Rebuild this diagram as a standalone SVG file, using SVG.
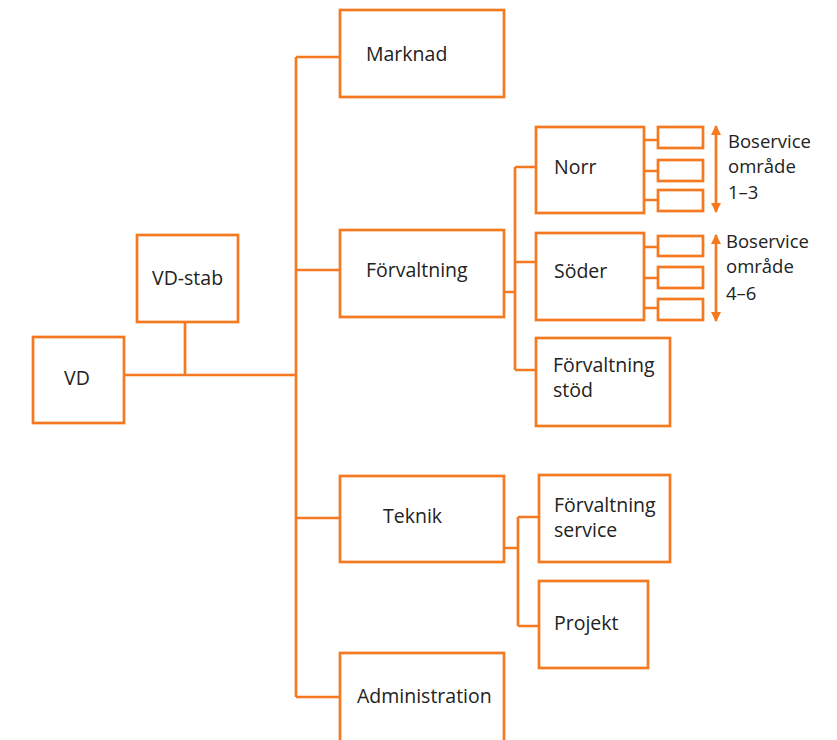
<svg xmlns="http://www.w3.org/2000/svg" width="837" height="740" viewBox="0 0 837 740">
<defs>
<style>
rect{fill:#fff;stroke:#F47920;stroke-width:2.7}
.c{fill:none;stroke:#F47920;stroke-width:2.7}
text{font-family:"Open Sans","Noto Sans","Liberation Sans",sans-serif;font-size:19.5px;fill:#222}
.s{font-size:18.5px}
</style>
<marker id="ah" viewBox="0 0 10 10" refX="9" refY="5" markerWidth="10" markerHeight="10" markerUnits="userSpaceOnUse" orient="auto-start-reverse">
<path d="M0,0 L10,5 L0,10 z" fill="#F47920"/>
</marker>
</defs>
<rect width="837" height="740" style="fill:#fff;stroke:none"/>
<g id="connectors">
<path class="c" d="M124,375 H296 M185,322 V375 M296,57 V697 M296,57 H340 M296,270 H340 M296,518 H340 M296,697 H340"/>
<path class="c" d="M504,292 H515 M515,167 V370 M515,167 H536 M515,262 H536 M515,370 H536"/>
<path class="c" d="M504,548 H518 M518,517 V626 M518,517 H539 M518,626 H539"/>
<path class="c" d="M644,140 H658 M644,171 H658 M644,200 H658 M644,247 H658 M644,278 H658 M644,308 H658"/>
<line class="c" x1="716" y1="126" x2="716" y2="212" marker-start="url(#ah)" marker-end="url(#ah)"/>
<line class="c" x1="716" y1="235" x2="716" y2="321" marker-start="url(#ah)" marker-end="url(#ah)"/>
</g>
<g id="vd"><rect x="33" y="337" width="91" height="86"/><text x="64" y="385">VD</text></g>
<g id="vd-stab"><rect x="137" y="235" width="101" height="87"/><text x="152" y="285">VD-stab</text></g>
<g id="marknad"><rect x="340" y="10" width="164" height="87"/><text x="366" y="61">Marknad</text></g>
<g id="forvaltning"><rect x="340" y="230" width="164" height="87"/><text x="366" y="277">Förvaltning</text></g>
<g id="teknik"><rect x="340" y="476" width="164" height="86"/><text x="383" y="523">Teknik</text></g>
<g id="administration"><rect x="340" y="653" width="164" height="95"/><text x="357" y="703">Administration</text></g>
<g id="norr"><rect x="536" y="127" width="108" height="86"/><text x="554" y="174">Norr</text></g>
<g id="soder"><rect x="536" y="233" width="108" height="87"/><text x="554" y="278">Söder</text></g>
<g id="forvaltning-stod"><rect x="536" y="338" width="134" height="88"/><text x="553" y="372">Förvaltning</text><text x="553" y="397">stöd</text></g>
<g id="forvaltning-service"><rect x="539" y="475" width="131" height="87"/><text x="554" y="512">Förvaltning</text><text x="554" y="537">service</text></g>
<g id="projekt"><rect x="539" y="581" width="109" height="87"/><text x="554" y="630">Projekt</text></g>
<g id="norr-1"><rect x="658" y="127" width="45" height="21"/></g>
<g id="norr-2"><rect x="658" y="160" width="45" height="21"/></g>
<g id="norr-3"><rect x="658" y="190" width="45" height="21"/></g>
<g id="soder-1"><rect x="658" y="236" width="45" height="20"/></g>
<g id="soder-2"><rect x="658" y="267" width="45" height="21"/></g>
<g id="soder-3"><rect x="658" y="299" width="45" height="21"/></g>
<g id="label-1-3"><text class="s" x="728" y="148">Boservice</text><text class="s" x="728" y="173">område</text><text class="s" x="728" y="199">1–3</text></g>
<g id="label-4-6"><text class="s" x="726" y="248">Boservice</text><text class="s" x="726" y="273">område</text><text class="s" x="726" y="300">4–6</text></g>
</svg>
